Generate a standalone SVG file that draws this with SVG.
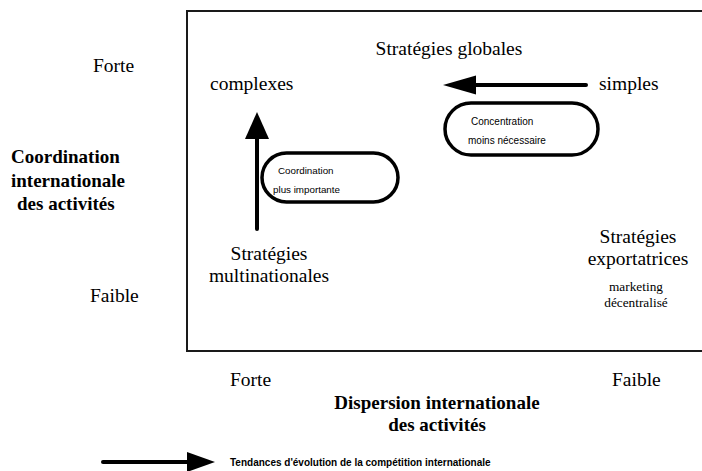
<svg xmlns="http://www.w3.org/2000/svg" width="702" height="471" viewBox="0 0 702 471">
<style>
.t{font-family:"Liberation Serif","Times New Roman",serif;fill:#000}
.r{font-size:19.5px}
.b{font-size:19px;font-weight:bold}
.s{font-family:"Liberation Sans",Arial,sans-serif;fill:#000}
.pill{fill:none;stroke:#000;stroke-width:3.5}
.ln{stroke:#000;stroke-width:4;stroke-linecap:round;fill:none}
.hd{fill:#000}
</style>
<rect x="187" y="11" width="530" height="340" fill="none" stroke="#1a1a1a" stroke-width="2"/>
<g id="axis-left">
<text class="t r" x="93" y="72">Forte</text>
<text class="t b" x="11" y="163">Coordination</text>
<text class="t b" x="11" y="187">internationale</text>
<text class="t b" x="17" y="210">des activités</text>
<text class="t r" x="90" y="302">Faible</text>
</g>
<g id="axis-bottom">
<text class="t r" x="230" y="386">Forte</text>
<text class="t r" x="612" y="386">Faible</text>
<text class="t b" x="437" y="409" text-anchor="middle">Dispersion internationale</text>
<text class="t b" x="437" y="431" text-anchor="middle">des activités</text>
</g>
<g id="strategies-globales">
<text class="t r" x="449" y="55" text-anchor="middle">Stratégies globales</text>
</g>
<g id="complexes"><text class="t r" x="210" y="90">complexes</text></g>
<g id="simples"><text class="t r" x="599" y="90">simples</text></g>
<g id="multinationales">
<text class="t r" x="269" y="260" text-anchor="middle">Stratégies</text>
<text class="t r" x="269" y="282" text-anchor="middle">multinationales</text>
</g>
<g id="exportatrices">
<text class="t r" x="638" y="243" text-anchor="middle">Stratégies</text>
<text class="t r" x="638" y="265" text-anchor="middle">exportatrices</text>
<text class="t" font-size="13.3" x="636" y="291" text-anchor="middle">marketing</text>
<text class="t" font-size="13.3" x="636" y="307" text-anchor="middle">décentralisé</text>
</g>
<g id="coordination-pill">
<rect class="pill" x="262" y="153" width="136" height="49" rx="24.5"/>
<text class="s" font-size="9.8" x="278" y="174">Coordination</text>
<text class="s" font-size="9.8" x="273" y="193">plus importante</text>
</g>
<g id="concentration-pill">
<rect class="pill" x="445" y="103" width="153" height="52" rx="26"/>
<text class="s" font-size="10" x="471" y="125">Concentration</text>
<text class="s" font-size="10" x="468" y="144">moins nécessaire</text>
</g>
<g id="legend">
<text class="s" font-size="10" font-weight="bold" x="230" y="466">Tendances d'évolution de la compétition internationale</text>
</g>
<g id="connectors">
<line class="ln" x1="586" y1="85" x2="470" y2="85"/>
<polygon class="hd" points="443,85 476,75.5 476,94.5"/>
<line class="ln" x1="257" y1="229" x2="257" y2="135"/>
<polygon class="hd" points="257,112 245,139 269,139"/>
<line class="ln" x1="103" y1="462" x2="190" y2="462"/>
<polygon class="hd" points="215,462 187,452 187,472"/>
</g>
</svg>
